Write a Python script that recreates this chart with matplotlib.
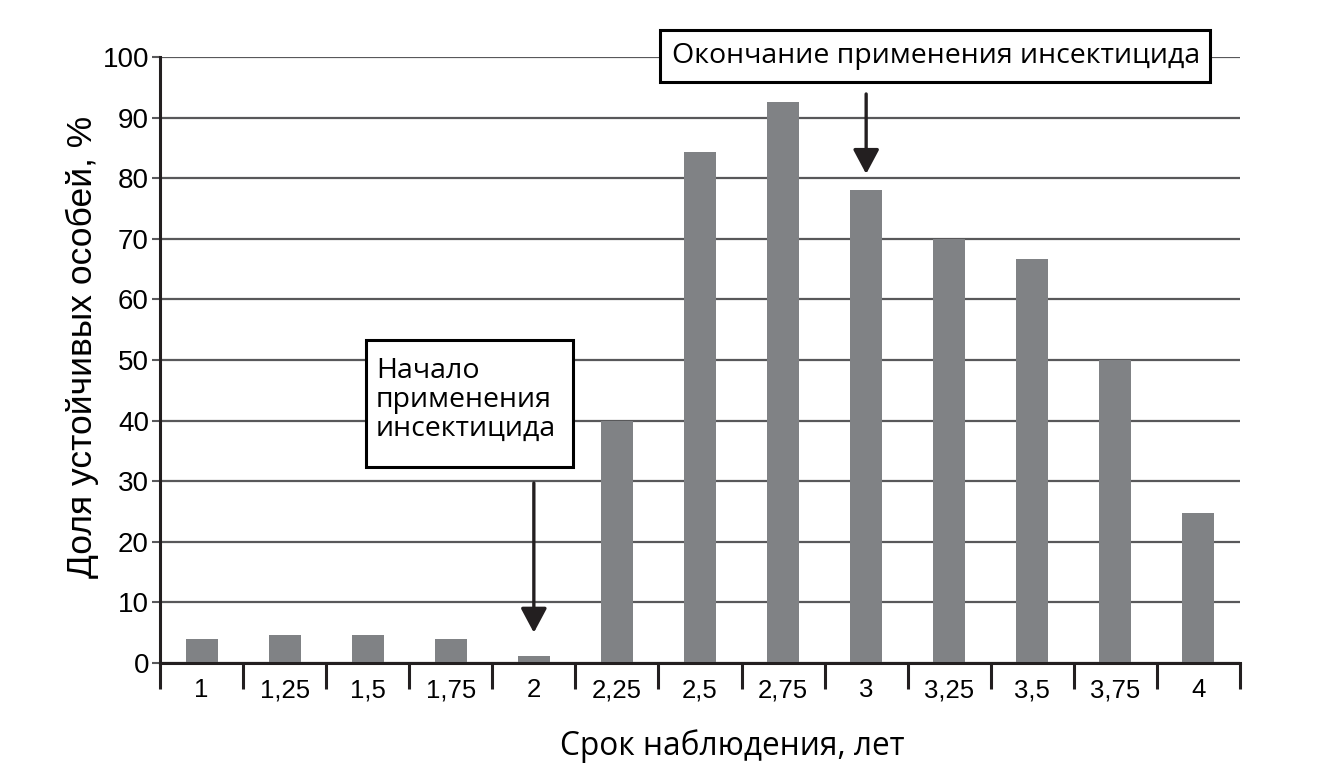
import matplotlib
matplotlib.use('Agg')
import matplotlib.pyplot as plt
from matplotlib.patches import Rectangle
import numpy as np

# data
years = ["1", "1,25", "1,5", "1,75", "2", "2,25", "2,5", "2,75", "3", "3,25", "3,5", "3,75", "4"]
resistant_pct = [3.9, 4.7, 4.7, 3.9, 1.2, 40, 84.3, 92.6, 78.1, 70, 66.6, 50, 24.7]
y_ticks = list(range(0, 101, 10))

W, H = 1328, 768
DARK = "#231f20"
GRID = "#58585a"
BAR = "#808285"

fig = plt.figure(figsize=(W / 100, H / 100), dpi=100)
ax = fig.add_axes([160 / W, 1 - 663 / H, 1080 / W, (663 - 57) / H])

x = np.arange(len(years))
ax.bar(x, resistant_pct, width=0.385, color=BAR, zorder=2)

ax.set_xlim(-0.5, len(years) - 0.5)
ax.set_ylim(0, 100)

# category boundaries as long ticks, labels centred between them
ax.set_xticks(np.arange(-0.5, len(years)), labels=[""] * (len(years) + 1))
ax.set_xticks(x, labels=years, minor=True)
ax.tick_params(axis="x", which="major", direction="out", length=18.7, width=2.2, color=DARK)
ax.tick_params(axis="x", which="minor", length=0, pad=11, labelsize=18.5)
for lab in ax.get_xticklabels(minor=True):
    lab.set_fontfamily("Liberation Sans")

ax.set_yticks(y_ticks)
ax.tick_params(axis="y", direction="out", length=6, width=1.5, color=GRID, pad=2, labelsize=20)
for lab in ax.get_yticklabels():
    lab.set_fontfamily("Liberation Sans")
ax.yaxis.grid(True, color=GRID, lw=1.6, zorder=1)
ax.set_axisbelow(True)

for side in ("top", "right"):
    ax.spines[side].set_visible(False)
for side in ("left", "bottom"):
    ax.spines[side].set_color(DARK)
    ax.spines[side].set_linewidth(2.2)
    ax.spines[side].set_zorder(3)

fig.text(82 / W, 1 - 347 / H, "Доля устойчивых особей, %", rotation=90,
         ha="center", va="center", fontsize=25.5, family="Liberation Sans")
fig.text(732 / W, 1 - 746 / H, "Срок наблюдения, лет",
         ha="center", va="center", fontsize=22.8, family="Open Sans")

# callout boxes
def box(x0, y0, x1, y1):
    r = Rectangle((x0 / W, 1 - y1 / H), (x1 - x0) / W, (y1 - y0) / H,
                  transform=fig.transFigure, facecolor="white", edgecolor="black",
                  lw=2.2, zorder=4)
    fig.add_artist(r)

box(660, 30, 1210, 82)
fig.text(936 / W, 1 - 56 / H, "Окончание применения инсектицида", ha="center", va="center",
         fontsize=20.5, family="Open Sans", zorder=5)

box(366, 340, 573, 467)
fig.text(376 / W, 1 - 400 / H, "Начало\nприменения\nинсектицида", ha="left", va="center",
         fontsize=20.5, family="Open Sans", linespacing=1.05, zorder=5)

arrow = dict(arrowstyle="-|>,head_length=1.5,head_width=0.8", color=DARK, lw=2.4,
             shrinkA=0, shrinkB=0)
ax.annotate("", xy=(8, 80.7), xytext=(8, 93.9), arrowprops=arrow, annotation_clip=False)
ax.annotate("", xy=(4, 5), xytext=(4, 29.7), arrowprops=arrow, annotation_clip=False)

fig.savefig("out.png", dpi=100)
